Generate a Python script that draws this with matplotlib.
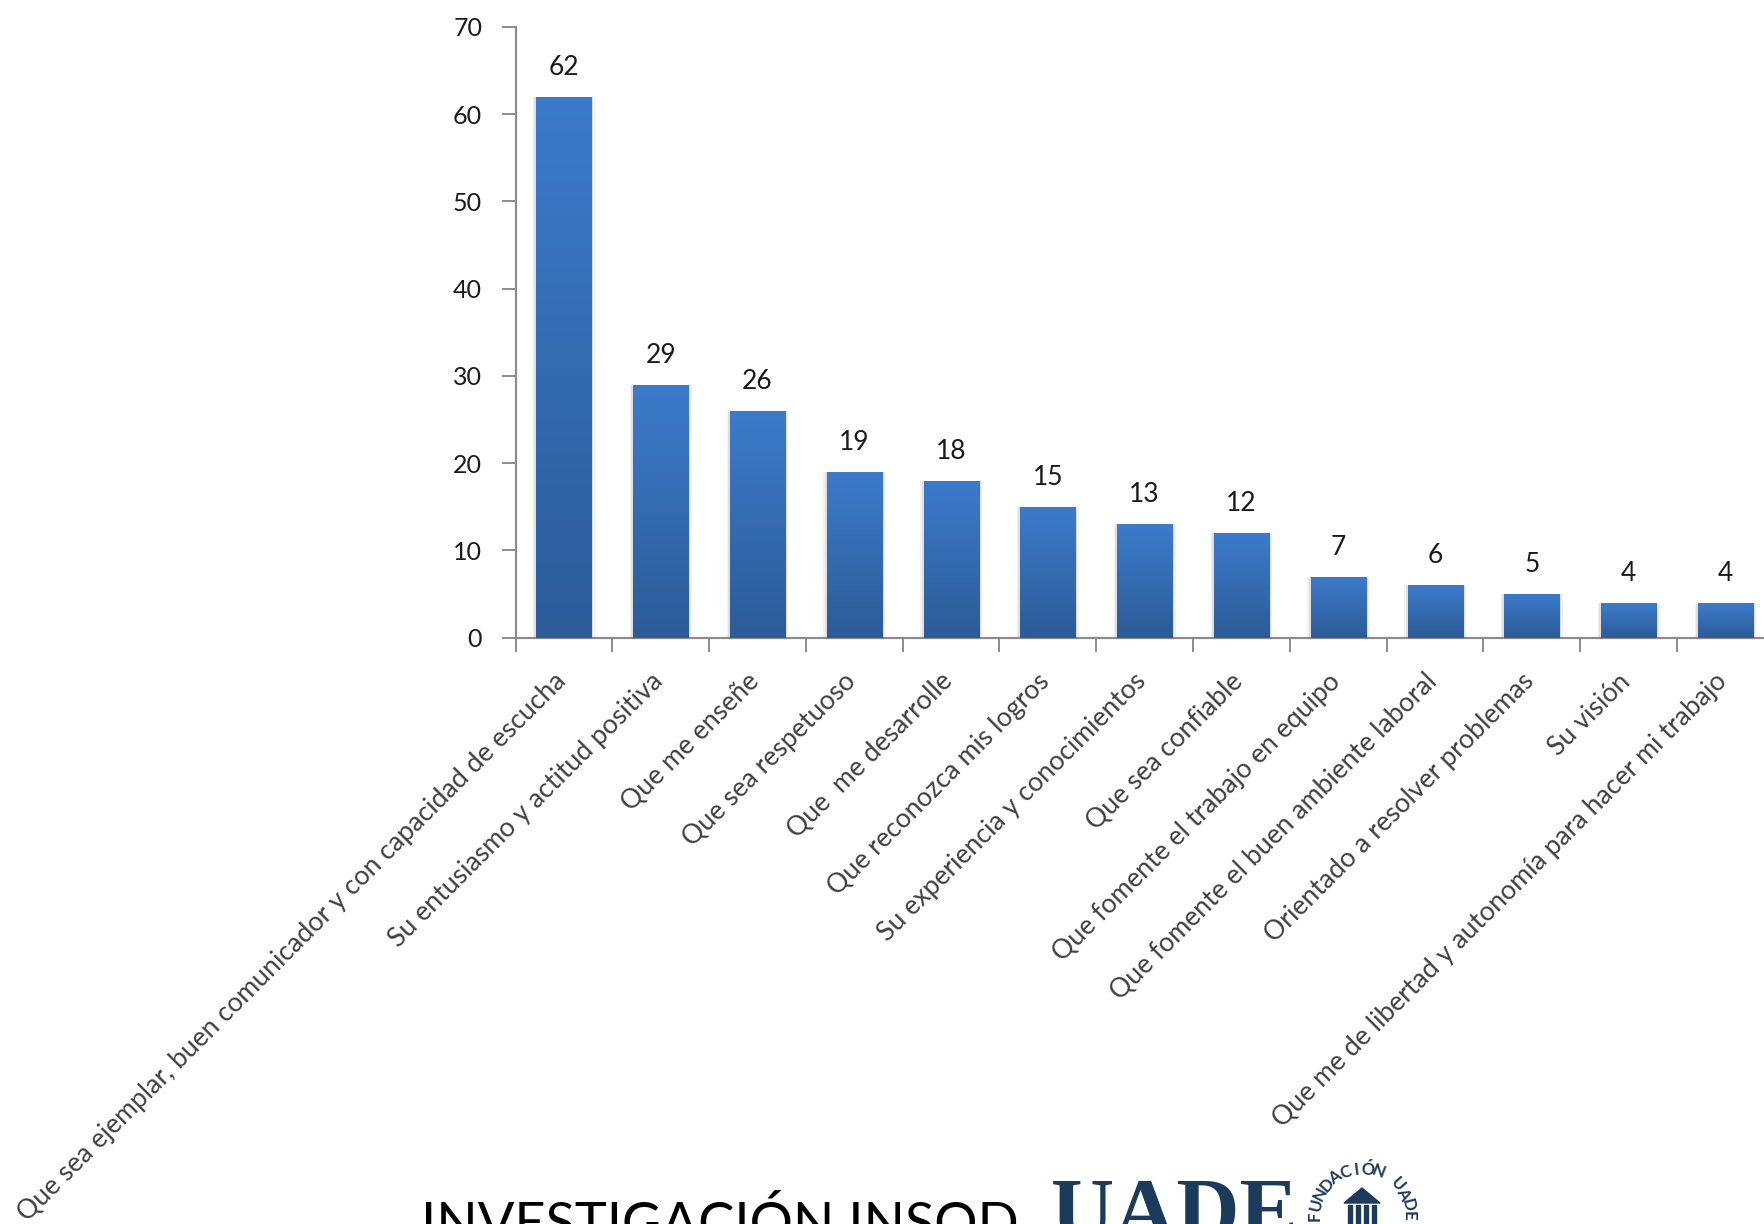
import numpy as np
import matplotlib
matplotlib.use('Agg')
import matplotlib.pyplot as plt
from matplotlib.colors import LinearSegmentedColormap
from matplotlib.patches import Polygon, Rectangle

categories = ['Que sea ejemplar, buen comunicador y con capacidad de escucha',
              'Su entusiasmo y actitud positiva',
              'Que me enseñe',
              'Que sea respetuoso',
              'Que  me desarrolle',
              'Que reconozca mis logros',
              'Su experiencia y conocimientos',
              'Que sea confiable',
              'Que fomente el trabajo en equipo',
              'Que fomente el buen ambiente laboral',
              'Orientado a resolver problemas',
              'Su visión',
              'Que me de libertad y autonomía para hacer mi trabajo']
values = [62, 29, 26, 19, 18, 15, 13, 12, 7, 6, 5, 4, 4]
y_ticks = [0, 10, 20, 30, 40, 50, 60, 70]
title = 'INVESTIGACIÓN INSOD'
logo = 'UADE'
seal = 'FUNDACIÓN UADE'

W, H = 1765, 1224
plt.rcParams['font.family'] = ['Lato', 'DejaVu Sans']

fig = plt.figure(figsize=(W/100, H/100), dpi=100)
ax = fig.add_axes([515.5/W, 1 - 637.7/H, (W - 515.5)/W, (637.7 - 27)/H])

x = np.arange(len(values))
width = 0.57
grad = LinearSegmentedColormap.from_list('bar', ['#2c5b97', '#3c7bcb'])

# soft shadow, then the bars with a vertical gradient clipped to them
for off, alpha in ((0.035, 0.05), (0.02, 0.08)):
    ax.bar(x, values, width + 2*off, color='#000000', alpha=alpha, linewidth=0, zorder=1)
bars = ax.bar(x, values, width, color='#3c7bcb', linewidth=0, zorder=2)
for b in bars:
    im = ax.imshow(np.linspace(1, 0, 128).reshape(-1, 1), cmap=grad, aspect='auto', zorder=3,
                   extent=(b.get_x(), b.get_x() + b.get_width(), 0, b.get_height()))
    im.set_clip_path(b)

ax.set_xlim(-0.5, (W - 515.5)/96.8 - 0.5)
ax.set_ylim(0, 70)
for s in ('top', 'right'):
    ax.spines[s].set_visible(False)
for s in ('left', 'bottom'):
    ax.spines[s].set_color('#8c8c8c')
    ax.spines[s].set_linewidth(1.6)

ax.set_yticks(y_ticks)
ax.tick_params(axis='y', length=10, width=1.4, color='#8c8c8c', labelsize=18,
               labelcolor='#1a1a1a', pad=14)
ax.set_xticks(x - 0.5)
ax.set_xticklabels([])
ax.tick_params(axis='x', length=10, width=1.4, color='#8c8c8c')

for xi, v, name in zip(x, values, categories):
    ax.annotate(str(v), (xi, v), xytext=(0, 17), textcoords='offset pixels', ha='center',
                va='bottom', fontsize=19, color='#1a1a1a')
    ax.annotate(name, (xi, 0), xytext=(-11, -31), textcoords='offset pixels', ha='right', va='top',
                rotation=45, rotation_mode='anchor', fontsize=19.2, color='#404040',
                annotation_clip=False)

# title and logo at the bottom, cut by the edge of the picture
over = fig.add_axes([0, 0, 1, 1], facecolor='none')
over.set_xlim(0, W)
over.set_ylim(H, 0)
over.axis('off')
over.text(421, 1241, title, fontsize=39, color='black', ha='left', va='baseline', clip_on=True)
over.text(1175, 1239, logo, family='Liberation Serif', fontweight='bold', fontsize=63,
          color='#1b3a5c', ha='center', va='baseline', clip_on=True)
for ch, a in zip(seal, np.linspace(180, 0, len(seal))):
    t = np.radians(a)
    over.text(1362 + 47*np.cos(t), 1216 - 47*np.sin(t), ch, fontsize=12, fontweight='bold',
              color='#1b3a5c', ha='center', va='center', rotation=a - 90)
over.add_patch(Polygon([[1344, 1203], [1362, 1188], [1380, 1203]], color='#1b3a5c'))
for px in (1348, 1356, 1364, 1372):
    over.add_patch(Rectangle((px, 1205), 4, 19, color='#1b3a5c'))

fig.savefig('out.png', dpi=100)
